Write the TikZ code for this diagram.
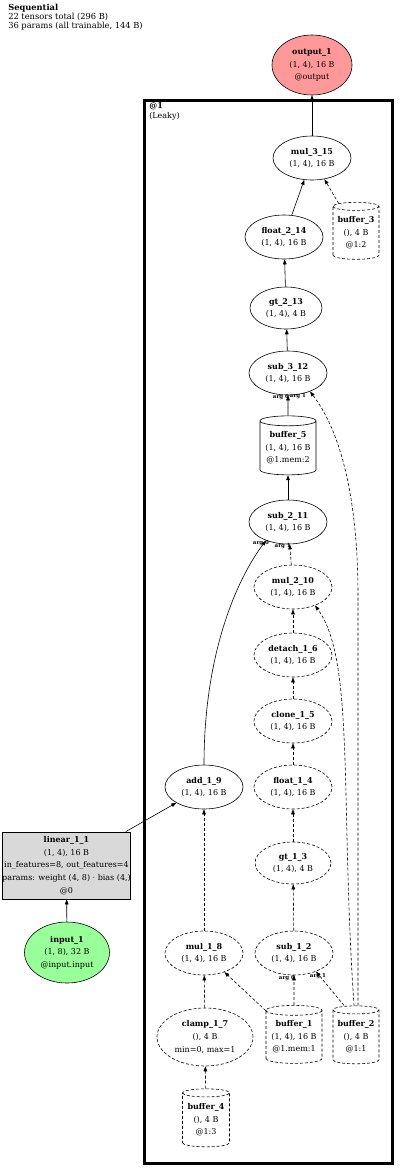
\documentclass[tikz,border=0pt]{standalone}
\usepackage{fontspec}
\setmainfont{DejaVu Serif}
\usetikzlibrary{shapes.geometric,arrows.meta}

\definecolor{outred}{HTML}{FF9999}
\definecolor{ingreen}{HTML}{99FF99}
\definecolor{modgray}{HTML}{D9D9D9}

\begin{document}
\begin{tikzpicture}[x=1pt,y=-1pt,>={Triangle[length=5pt,width=3.6pt]},line width=0.6pt,
        font=\fontsize{8}{12.6}\selectfont]
        \tikzstyle{every node}=[align=center,inner sep=0pt]
        \tikzstyle{faint}=[dash pattern=on 3pt off 2pt]
        \tikzstyle{op}=[ellipse,draw,minimum width=78pt,minimum height=44pt]
        \tikzstyle{op faint}=[op,faint]
        \tikzstyle{buffer}=[cylinder,shape border rotate=90,aspect=0.22,draw,faint,minimum width=46pt,minimum height=57pt]
        \tikzstyle{dep}=[->,faint]
        \tikzstyle{arglbl}=[font=\fontsize{5.5}{5.5}\selectfont\bfseries]

        \useasboundingbox (0,0) rectangle (400,1171);

        % Summary at the top left
        \node[anchor=north west,align=left,font=\fontsize{8.3}{9.3}\selectfont] (summary) at (8,3.5)
            {\textbf{Sequential}\\22 tensors total (296 B)\\36 params (all trainable, 144 B)};

        % The module box
        \node[draw,line width=3pt,minimum width=248pt,minimum height=1063pt] (cluster-1) at (268,631.5) {};
        \node[anchor=north west,align=left,font=\fontsize{8}{10}\selectfont] (cluster-lbl)
            at (149,102) {\textbf{@1}\\(Leaky)};

        % Input, linear layer and output
        \node[op,fill=ingreen,minimum width=85pt,minimum height=61pt] (input-1) at (67,952.5)
            {\textbf{input\_1}\\(1, 8), 32 B\\@input.input};
        \node[rectangle,draw,fill=modgray,minimum width=127pt,minimum height=67pt] (linear-1-1) at (66.5,865.5)
            {\textbf{linear\_1\_1}\\(1, 4), 16 B\\in\_features=8, out\_features=4\\params: weight (4, 8) · bias (4,)\\@0};
        \node[op,fill=outred,minimum width=80pt,minimum height=60pt] (output-1) at (312,65)
            {\textbf{output\_1}\\(1, 4), 16 B\\@output};

        % Solid ops
        \node[op] (mul-3-15) at (312,158) {\textbf{mul\_3\_15}\\(1, 4), 16 B};
        \node[op] (float-2-14) at (284,237) {\textbf{float\_2\_14}\\(1, 4), 16 B};
        \node[op,minimum width=72pt,minimum height=42pt] (gt-2-13) at (286,308) {\textbf{gt\_2\_13}\\(1, 4), 4 B};
        \node[op] (sub-3-12) at (288,373) {\textbf{sub\_3\_12}\\(1, 4), 16 B};
        \node[op] (sub-2-11) at (288,522) {\textbf{sub\_2\_11}\\(1, 4), 16 B};
        \node[op] (add-1-9) at (204,787) {\textbf{add\_1\_9}\\(1, 4), 16 B};

        % Dashed ops
        \foreach \name / \lbl / \y in {mul-2-10/mul\_2\_10/587, detach-1-6/detach\_1\_6/655,
                clone-1-5/clone\_1\_5/721, float-1-4/float\_1\_4/787}
            \node[op faint] (\name) at (293,\y) {\textbf{\lbl}\\(1, 4), 16 B};
        \node[op faint,minimum width=76pt,minimum height=42pt] (gt-1-3) at (293,863) {\textbf{gt\_1\_3}\\(1, 4), 4 B};
        \node[op faint] (mul-1-8) at (204,953) {\textbf{mul\_1\_8}\\(1, 4), 16 B};
        \node[op faint] (sub-1-2) at (294,953) {\textbf{sub\_1\_2}\\(1, 4), 16 B};
        \node[op faint,minimum width=96pt,minimum height=58pt] (clamp-1-7) at (205,1037) {\textbf{clamp\_1\_7}\\(), 4 B\\min=0, max=1};

        % Buffers
        \node[buffer] (buffer-3) at (356,233) {\textbf{buffer\_3}\\(), 4 B\\@1:2};
        \node[buffer,solid,minimum width=56pt,minimum height=59pt] (buffer-5) at (288,448) {\textbf{buffer\_5}\\(1, 4), 16 B\\@1.mem:2};
        \node[buffer,minimum width=56pt,minimum height=58pt] (buffer-1) at (294,1037) {\textbf{buffer\_1}\\(1, 4), 16 B\\@1.mem:1};
        \node[buffer,minimum height=58pt] (buffer-2) at (356,1037) {\textbf{buffer\_2}\\(), 4 B\\@1:1};
        \node[buffer,minimum width=47pt,minimum height=58pt] (buffer-4) at (206,1120) {\textbf{buffer\_4}\\(), 4 B\\@1:3};

        % Solid edges
        \draw[->] (input-1) -- (linear-1-1);
        \draw[->] (linear-1-1) -- (add-1-9);
        \draw[->] (mul-3-15) -- (output-1);
        \draw[->] (float-2-14) -- (mul-3-15);
        \draw[->] (gt-2-13) -- (float-2-14);
        \draw[->] (sub-3-12) -- (gt-2-13);
        \draw[->] (sub-2-11) -- (buffer-5);
        \draw[->] (buffer-5) -- (sub-3-12) node[arglbl,at end,xshift=-7pt,yshift=-2pt] {arg 0};
        \draw[->] (add-1-9.north) .. controls +(0,-110) and +(-30,40) .. (sub-2-11.-140)
            node[arglbl,at end,xshift=-5pt,yshift=-3pt] {arg 0};

        % Dashed edges
        \draw[dep] (buffer-3) -- (mul-3-15);
        \draw[dep] (mul-2-10) -- (sub-2-11) node[arglbl,at end,xshift=-7pt,yshift=-2pt] {arg 1};
        \foreach \source / \dest in {gt-1-3/float-1-4, float-1-4/clone-1-5, clone-1-5/detach-1-6,
                detach-1-6/mul-2-10, sub-1-2/gt-1-3, mul-1-8/add-1-9, clamp-1-7/mul-1-8,
                buffer-4/clamp-1-7, buffer-1/mul-1-8}
            \draw[dep] (\source) -- (\dest);
        \draw[dep] (buffer-1) -- (sub-1-2) node[arglbl,at end,xshift=-7pt,yshift=-3pt] {arg 0};
        \draw[dep] ([xshift=-12pt]buffer-2.north) -- (sub-1-2.-40)
            node[arglbl,at end,xshift=2pt,yshift=-5pt] {arg 1};
        \draw[dep] ([xshift=-2pt]buffer-2.north) .. controls (340,800) and (355,660) .. (mul-2-10.-40);
        \draw[dep] ([xshift=2pt]buffer-2.north) -- ++(0,-410) .. controls +(0,-80) and +(36,47) .. (sub-3-12.-40)
            node[arglbl,at end,xshift=-12pt,yshift=-5pt] {arg 1};
\end{tikzpicture}
\end{document}
